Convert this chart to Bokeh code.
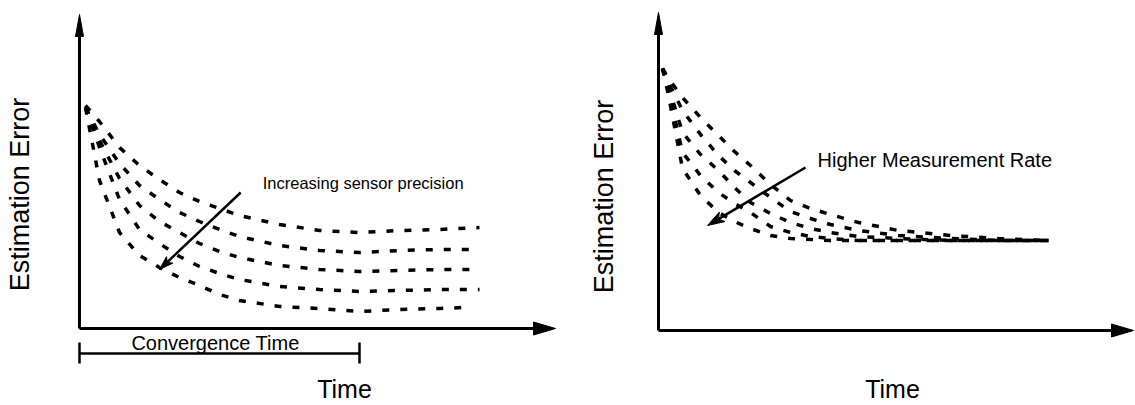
import numpy as np
from bokeh.plotting import figure
from bokeh.layouts import row
from bokeh.models import Label
from bokeh.embed import file_html
from bokeh.resources import INLINE

# ---------------- data ----------------
# Left panel: estimation error vs time for five sensor precisions
left_time = [0.15, 0.5, 1.0, 1.5, 2.0, 2.5, 3.0, 3.5, 4.0, 5.0, 6.0, 7.0, 8.0, 9.0, 10.0]
left_time_last = [0.15, 0.5, 1.0, 1.5, 2.0, 2.5, 3.0, 3.5, 4.0, 5.0, 6.0, 7.0, 8.0, 9.0, 9.6]
left_err_1 = [11.15, 10.35, 9.05, 8.15, 7.45, 6.8, 6.35, 6.0, 5.65, 5.2, 4.9, 4.8, 4.9, 4.95, 5.05]
left_err_2 = [11.05, 9.7, 8.25, 7.15, 6.45, 5.8, 5.35, 4.95, 4.6, 4.15, 3.9, 3.8, 3.9, 3.95, 3.95]
left_err_3 = [11.05, 9.4, 7.5, 6.15, 5.35, 4.8, 4.25, 3.85, 3.55, 3.15, 2.95, 2.85, 2.9, 2.95, 2.95]
left_err_4 = [11.05, 9.05, 6.45, 4.95, 4.25, 3.6, 3.1, 2.75, 2.45, 2.1, 1.95, 1.85, 1.9, 1.95, 1.95]
left_err_5 = [11.05, 7.4, 4.8, 3.65, 3.05, 2.55, 2.15, 1.7, 1.4, 1.1, 1.0, 0.85, 0.95, 1.0, 1.05]
convergence_time = 7.0

# Right panel: estimation error vs time for five measurement rates
right_time = [0.1, 0.25, 0.6, 1.05, 1.5, 1.9, 2.3, 2.8, 3.3, 3.8, 4.3, 5.0, 6.0, 7.3, 8.5, 9.75]
right_err_1 = [13.1, 12.6, 11.65, 10.65, 9.75, 8.95, 8.25, 7.3, 6.5, 6.1, 5.8, 5.4, 5.0, 4.75, 4.6, 4.5]
right_err_2 = [13.1, 12.4, 11.0, 9.8, 8.75, 8.0, 7.4, 6.65, 5.95, 5.6, 5.3, 5.0, 4.75, 4.6, 4.5, 4.5]
right_err_3 = [13.1, 12.2, 9.9, 8.8, 8.0, 7.15, 6.4, 5.85, 5.4, 5.1, 4.9, 4.7, 4.6, 4.5, 4.5, 4.5]
right_err_4 = [13.1, 12.0, 8.9, 7.75, 6.9, 6.35, 5.9, 5.2, 4.9, 4.7, 4.6, 4.5, 4.5, 4.5, 4.5, 4.5]
right_err_5 = [13.1, 11.75, 8.1, 6.75, 5.9, 5.45, 5.1, 4.75, 4.6, 4.55, 4.5, 4.5, 4.5, 4.5, 4.5, 4.5]

# Axis extents and annotation arrows (data units)
left_x_end, left_y_end = 11.9, 15.7
right_x_end, right_y_end = 11.875, 15.9
left_arrow = dict(x0=4.03, y0=6.8, x1=2.0, y1=2.95)
right_arrow = dict(x0=3.675, y0=8.15, x1=1.225, y1=5.25)

# texts
ylabel = "Estimation Error"
xlabel = "Time"
left_note = "Increasing sensor precision"
right_note = "Higher Measurement Rate"
bracket_label = "Convergence Time"

FONT = "Liberation Sans"
SX, SY = 40.0, 20.0  # pixels per data unit (x, y)


def head(p, tip_x, tip_y, dx, dy, length, width, notch=0.0):
    """Filled arrow head (pixel sizes) pointing along screen direction (dx, dy)."""
    n = np.hypot(dx, dy)
    ux, uy = dx / n, dy / n
    px, py = -uy, ux
    pts = [
        (0.0, 0.0),
        (-ux * length + px * width / 2, -uy * length + py * width / 2),
        (-ux * length * (1 - notch), -uy * length * (1 - notch)),
        (-ux * length - px * width / 2, -uy * length - py * width / 2),
    ]
    xs = [tip_x + a / SX for a, b in pts]
    ys = [tip_y + b / SY for a, b in pts]
    p.patch(xs, ys, fill_color="black", line_color="black", line_width=1)


def arrow(p, x0, y0, x1, y1, length, width, notch, lw):
    dx, dy = (x1 - x0) * SX, (y1 - y0) * SY
    n = np.hypot(dx, dy)
    back = length * 0.6
    xe = x1 - dx / n * back / SX
    ye = y1 - dy / n * back / SY
    p.line([x0, xe], [y0, ye], line_color="black", line_width=lw)
    head(p, x1, y1, dx, dy, length, width, notch)


def axes(p, x_end, y_end):
    p.line([0, 0], [0, y_end - 15 / SY], line_color="black", line_width=3)
    p.line([0, x_end - 15 / SX], [0, 0], line_color="black", line_width=3)
    head(p, 0, y_end, 0, 1, 22, 8)
    head(p, x_end, 0, 1, 0, 22, 13)


def make_fig(width, x_range, y_range):
    p = figure(width=width, height=405, x_range=x_range, y_range=y_range,
               x_axis_type=None, y_axis_type=None, toolbar_location=None,
               output_backend="svg", min_border=0, outline_line_color=None,
               background_fill_color="white", border_fill_color="white")
    p.grid.visible = False
    return p


def curve(p, t, e):
    p.line(t, e, line_color="black", line_width=3.5, line_dash="7 11", line_cap="butt")


def text(p, x, y, s, size, align="center", angle=0.0):
    p.add_layout(Label(x=x, y=y, text=s, angle=angle, text_align=align,
                       text_baseline="middle", text_font=FONT,
                       text_font_size=size, text_color="black"))


# ---------------- left panel ----------------
left = make_fig(567, (-1.975, 12.2), (-3.85, 16.4))
for e in [left_err_1, left_err_2, left_err_3, left_err_4]:
    curve(left, left_time, e)
curve(left, left_time_last, left_err_5)
axes(left, left_x_end, left_y_end)
arrow(left, **left_arrow, length=14, width=9, notch=0.25, lw=2.5)

# convergence time bracket
left.line([0, convergence_time], [-1.25, -1.25], line_color="black", line_width=2.5)
left.line([0, 0], [-0.7, -1.75], line_color="black", line_width=2.5)
left.line([convergence_time, convergence_time], [-0.7, -1.75], line_color="black", line_width=2.5)

text(left, convergence_time / 2 - 0.1, -0.7, bracket_label, "20px")
text(left, 6.625, -3.0, xlabel, "25px")
text(left, -1.5, 6.7, ylabel, "27px", angle=np.pi / 2)
text(left, 4.58, 7.3, left_note, "16.5px", align="left")

# ---------------- right panel ----------------
right = make_fig(568, (-2.275, 11.925), (-3.75, 16.5))
for e in [right_err_1, right_err_2, right_err_3, right_err_4, right_err_5]:
    curve(right, right_time, e)
axes(right, right_x_end, right_y_end)
arrow(right, **right_arrow, length=17, width=11, notch=0.25, lw=2.5)

text(right, 5.85, -2.9, xlabel, "25px")
text(right, -1.375, 6.7, ylabel, "27px", angle=np.pi / 2)
text(right, 3.975, 8.55, right_note, "20px", align="left")

layout = row(left, right, spacing=0)
open("out.html", "w").write(file_html(layout, INLINE))
